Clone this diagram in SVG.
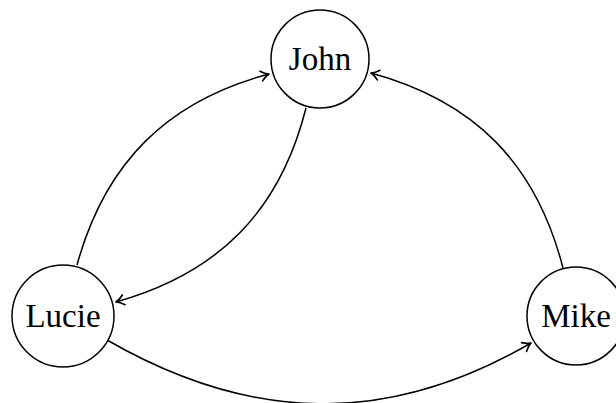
<svg xmlns="http://www.w3.org/2000/svg" width="616" height="403" viewBox="0 0 616 403">
<style>
.node circle{fill:#fff;stroke:#000;stroke-width:1.5}
.node text{font-family:"Liberation Serif","DejaVu Serif",serif;font-size:33px;fill:#000;text-anchor:middle}
.edge{fill:none;stroke:#000;stroke-width:1.5;marker-end:url(#arr)}
</style>
<defs>
<marker id="arr" markerUnits="userSpaceOnUse" viewBox="-10 -7 12 14" refX="0" refY="0" markerWidth="12" markerHeight="14" orient="auto" overflow="visible">
<path d="M-8,-5 C-5,-2.2 -2,-0.6 0,0 C-2,0.6 -5,2.2 -8,5" fill="none" stroke="#000" stroke-width="1.7" stroke-linecap="round" stroke-linejoin="round"/>
</marker>
</defs>
<g id="connectors">
<path class="edge" d="M77,265 C105,163 167,101 269,74"/>
<path class="edge" d="M306,108 C280,211 219,273 116,302"/>
<path class="edge" d="M107,340 C251,423 388,426 531,343"/>
<path class="edge" d="M563,268 C536,163 474,101 371,73"/>
</g>
<g id="john" class="node"><circle cx="320" cy="59" r="49"/><text x="320" y="70">John</text></g>
<g id="lucie" class="node"><circle cx="63" cy="316" r="51"/><text x="63" y="327">Lucie</text></g>
<g id="mike" class="node"><circle cx="576" cy="316" r="49"/><text x="576" y="327">Mike</text></g>
</svg>
